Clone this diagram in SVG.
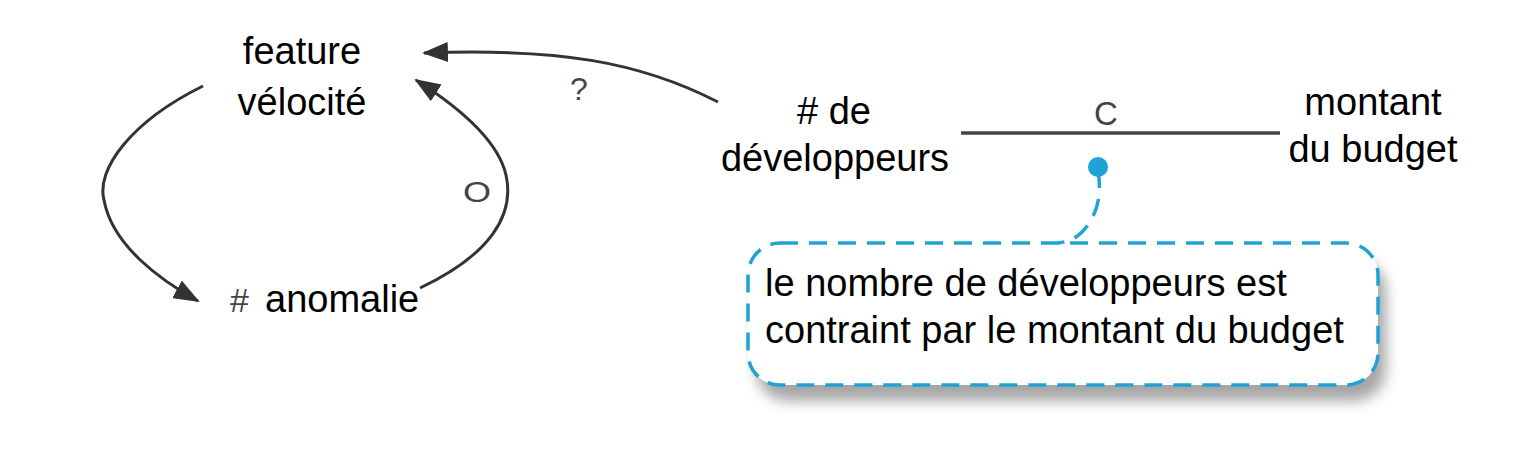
<svg xmlns="http://www.w3.org/2000/svg" width="1526" height="472" viewBox="0 0 1526 472">
<defs>
<style>
.t{font-family:"Liberation Sans",Arial,sans-serif;font-size:38px;fill:#000}
.g{font-family:"Liberation Sans",Arial,sans-serif;fill:#444}
.c{fill:none;stroke:#333;stroke-width:3}
.b{fill:none;stroke:#1fa3d4;stroke-width:3.5;stroke-dasharray:18 11}
</style>
<marker id="ah" viewBox="0 0 26 20" refX="24" refY="10" markerWidth="26" markerHeight="20" markerUnits="userSpaceOnUse" orient="auto">
<path d="M0,0 L26,10 L0,20 Z" fill="#333"/>
</marker>
<filter id="sh" x="-10%" y="-20%" width="130%" height="170%">
<feDropShadow dx="8" dy="16" stdDeviation="7" flood-color="#000" flood-opacity="0.35"/>
</filter>
</defs>
<rect width="1526" height="472" fill="#fff"/>
<g id="connectors">
<path class="c" d="M203,86 C130,122 96,170 104,200 C112,245 160,280 198,301" marker-end="url(#ah)"/>
<path class="c" d="M420,288 C490,255 515,215 506,175 C498,140 460,108 416,80" marker-end="url(#ah)"/>
<path class="c" d="M718,102 C640,62 560,48 424,53" marker-end="url(#ah)"/>
<text class="g" x="579" y="100" font-size="32" text-anchor="middle">?</text>
<text class="g" x="477" y="202" font-size="30" text-anchor="middle" transform="translate(477 191) scale(1.2 1) translate(-477 -191)">O</text>
<line x1="961" y1="133" x2="1280" y2="133" stroke="#444" stroke-width="3.5"/>
<text class="g" x="1106" y="125" font-size="33" text-anchor="middle">C</text>
</g>
<g id="node-feature">
<text class="t" x="302" y="64" text-anchor="middle">feature</text>
<text class="t" x="302" y="115" text-anchor="middle">vélocité</text>
</g>
<g id="node-anomalie">
<text class="g" x="230" y="312" font-size="34">#</text>
<text class="t" x="265" y="312">anomalie</text>
</g>
<g id="node-developpeurs">
<text class="t" x="834" y="124" text-anchor="middle"># de</text>
<text class="t" x="835" y="171" text-anchor="middle">développeurs</text>
</g>
<g id="node-budget">
<text class="t" x="1373" y="115" text-anchor="middle">montant</text>
<text class="t" x="1373" y="162" text-anchor="middle">du budget</text>
</g>
<g id="note">
<rect x="748" y="243" width="630" height="142" rx="32" fill="#fff" filter="url(#sh)"/>
<rect class="b" x="748" y="243" width="630" height="142" rx="32"/>
<circle cx="1098" cy="167" r="10" fill="#1fa3d4"/>
<path class="b" d="M1098,170 C1102,195 1098,215 1082,232 C1074,240 1066,242 1058,243" stroke-dasharray="14 10"/>
<text class="t" x="765" y="296">le nombre de développeurs est</text>
<text class="t" x="765" y="343">contraint par le montant du budget</text>
</g>
</svg>
